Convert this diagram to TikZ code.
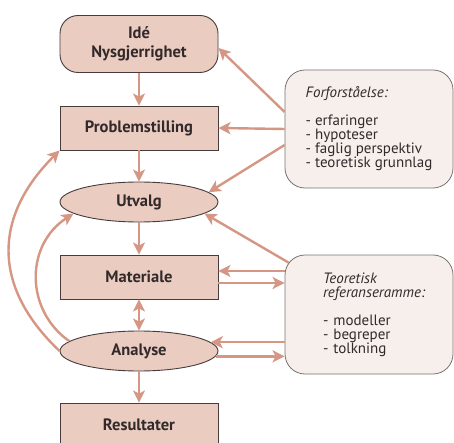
\documentclass[tikz,border=0pt]{standalone}
\usepackage{fontspec}
\setmainfont{PT Sans}
\usetikzlibrary{positioning,calc,arrows.meta,shapes.geometric}
\definecolor{pilfarge}{RGB}{214,150,132}
\definecolor{boksfarge}{RGB}{234,204,193}
\definecolor{boksrand}{RGB}{70,60,60}
\definecolor{infofarge}{RGB}{247,239,236}
\definecolor{inforand}{RGB}{120,115,115}
\definecolor{tekst}{RGB}{50,42,42}

\begin{document}
\begin{tikzpicture}[
x=1pt, y=-1pt,
boks/.style={
  draw=boksrand,
  fill=boksfarge,
  line width=0.9pt,
  minimum width=158pt,
  minimum height=44pt,
  inner sep=0pt,
  align=center,
  text=tekst,
  font=\bfseries\fontsize{16.5}{19}\selectfont
  },
runde/.style={
  boks,
  rounded corners=18pt,
  minimum height=57pt
  },
oval/.style={
  boks,
  ellipse,
  minimum height=40pt
  },
info/.style={
  draw=inforand,
  fill=infofarge,
  line width=0.8pt,
  rounded corners=20pt,
  minimum width=168pt,
  minimum height=118pt,
  align=left,
  text=tekst,
  font=\fontsize{15}{14}\selectfont
  },
pil/.style={
  draw=pilfarge,
  line width=2.4pt,
  -{Stealth[length=12pt,width=12pt,inset=3pt]}
  },
dobbelpil/.style={
  pil,
  {Stealth[length=12pt,width=12pt,inset=3pt]}-{Stealth[length=12pt,width=12pt,inset=3pt]}
  }
]
\useasboundingbox (0,0) rectangle (454,443);
\fill[white] (0,0) rectangle (454,443);
\clip (0,0) rectangle (454,443);

% hovedgangen
\node[runde] (ide)  at (139,44)  {Idé\\Nysgjerrighet};
\node[boks]  (prob) at (139,128) {Problemstilling};
\node[oval]  (utv)  at (139,202) {Utvalg};
\node[boks]  (mat)  at (139,277) {Materiale};
\node[oval]  (ana)  at (139,351) {Analyse};
\node[boks]  (res)  at (139,425) {Resultater};

% forforstaaelse og referanseramme
\node[info] (forf) at (369,129)
  {\textit{Forforståelse:}\\[14pt]
   - erfaringer\\
   - hypoteser\\
   - faglig perspektiv\\
   - teoretisk grunnlag};
\node[info, minimum height=119pt, text width=124pt] (teor) at (369,314.5)
  {\leftskip=16pt
   \textit{Teoretisk}\\
   \textit{referanseramme:}\\[14pt]
   - modeller\\
   - begreper\\
   - tolkning\par};

\draw[pil] (ide) -- (prob);
\draw[pil] (prob) -- (utv);
\draw[pil] (utv) -- (mat);
\draw[dobbelpil] (mat) -- (ana);
\draw[pil] (ana) -- (res);

\draw[pil] ($(forf.west)+(0,-17)$) -- ($(ide.east)+(0,4)$);
\draw[pil] (forf.west) -- (prob.east);
\draw[pil] ($(forf.west)+(0,16)$) -- (utv.8);
\draw[pil] ($(teor.north west)+(4,8)$) -- (utv.-10);

\coordinate (m1) at ($(mat.east)+(0,-6)$);
\coordinate (m2) at ($(mat.east)+(0,6)$);
\draw[pil] (teor.west |- m1) -- (m1);
\draw[pil] (m2) -- (teor.west |- m2);
\draw[pil] (teor.west |- ana.7) -- (ana.7);
\draw[pil] (ana.-4) -- (teor.west |- ana.-4);

% tilbake fra analysen
\draw[pil] (ana.west) .. controls (-10,285) and (-5,215) .. (prob.south west);
\draw[pil] (ana.172) .. controls (25,310) and (25,245) .. (utv.190);
\end{tikzpicture}
\end{document}
